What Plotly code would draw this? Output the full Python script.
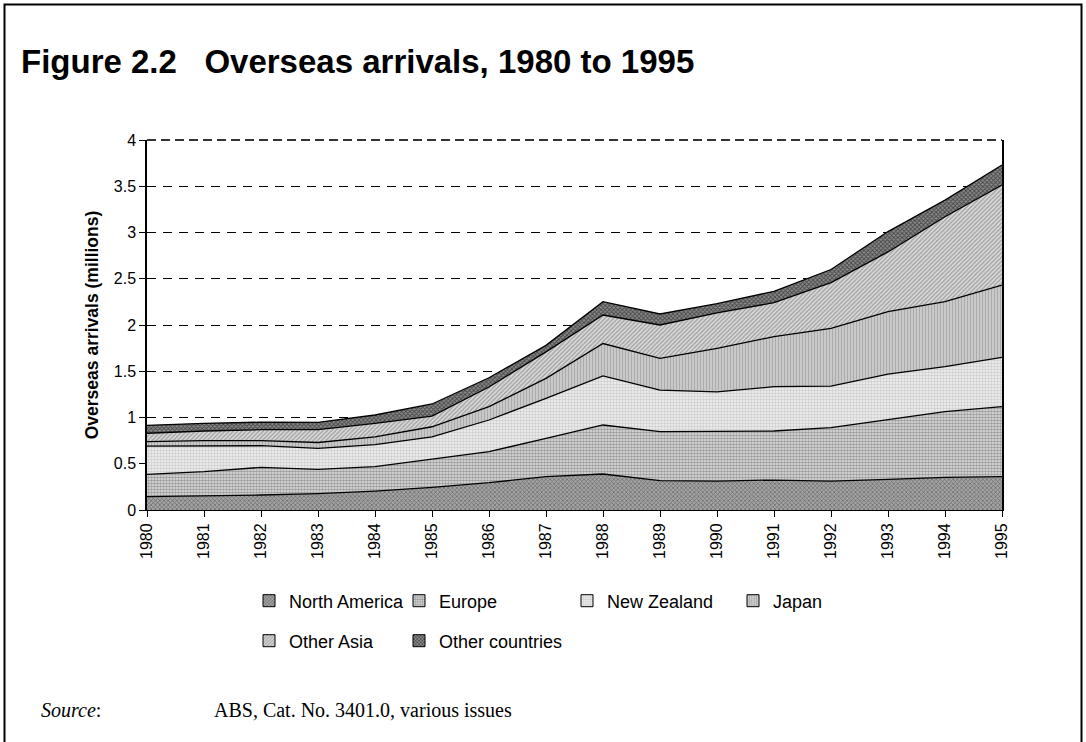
import plotly.graph_objects as go

years = list(range(1980, 1996))

north_america = [0.144, 0.151, 0.162, 0.177, 0.205, 0.245, 0.295, 0.360, 0.389, 0.317, 0.313, 0.324, 0.313, 0.332, 0.353, 0.360]
europe        = [0.242, 0.263, 0.299, 0.263, 0.263, 0.303, 0.335, 0.415, 0.530, 0.530, 0.541, 0.530, 0.577, 0.641, 0.710, 0.757]
new_zealand   = [0.304, 0.281, 0.234, 0.227, 0.238, 0.242, 0.343, 0.432, 0.530, 0.450, 0.422, 0.479, 0.450, 0.497, 0.487, 0.533]
japan         = [0.050, 0.055, 0.055, 0.063, 0.084, 0.110, 0.144, 0.216, 0.351, 0.343, 0.472, 0.541, 0.624, 0.674, 0.702, 0.782]
other_asia    = [0.090, 0.104, 0.118, 0.138, 0.147, 0.116, 0.213, 0.287, 0.308, 0.360, 0.382, 0.367, 0.494, 0.646, 0.918, 1.082]
other_countries = [0.085, 0.083, 0.082, 0.080, 0.090, 0.130, 0.100, 0.070, 0.144, 0.119, 0.100, 0.123, 0.142, 0.220, 0.180, 0.216]

series_names = ["North America", "Europe", "New Zealand", "Japan", "Other Asia", "Other countries"]
series_values = [north_america, europe, new_zealand, japan, other_asia, other_countries]

y_tick_vals = [0, 0.5, 1, 1.5, 2, 2.5, 3, 3.5, 4]
y_tick_text = ["0", "0.5", "1", "1.5", "2", "2.5", "3", "3.5", "4"]

# styling
patterns = [
    dict(shape="x", bgcolor="#a4a4a4", fgcolor="#2a2a2a", size=3, solidity=0.4),
    dict(shape=".", bgcolor="#e2e2e2", fgcolor="#555555", size=3, solidity=0.6),
    dict(shape=".", bgcolor="#f2f2f2", fgcolor="#a8a8a8", size=3, solidity=0.5),
    dict(shape="|", bgcolor="#cccccc", fgcolor="#8a8a8a", size=3, solidity=0.4),
    dict(shape="/", bgcolor="#dedede", fgcolor="#6a6a6a", size=3, solidity=0.5),
    dict(shape="x", bgcolor="#8c8c8c", fgcolor="#000000", size=3, solidity=0.5),
]

W, H = 1086, 742
L, R, T, B = 147, 84, 140, 232
PW, PH = W - L - R, H - T - B

def fx(px):
    return (px - L) / PW

def fy(py):
    return (H - B - py) / PH

fig = go.Figure()

for name, vals, pat in zip(series_names, series_values, patterns):
    fig.add_trace(go.Scatter(
        x=years, y=vals, name=name, mode="lines",
        stackgroup="one", fill="tonexty",
        line=dict(color="black", width=1.3),
        fillpattern=pat,
        showlegend=False, hoverinfo="skip",
    ))

legend_pos = [(249, 601), (399, 601), (567, 601), (733, 601), (249, 641), (399, 641)]
legend_layouts = {}
for i, (name, pat, (lx, ly)) in enumerate(zip(series_names, patterns, legend_pos)):
    key = "legend" if i == 0 else f"legend{i+1}"
    fig.add_trace(go.Bar(
        x=[None], y=[None], name=name,
        marker=dict(color=pat["bgcolor"], pattern=pat, line=dict(color="black", width=1)),
        legend=key, showlegend=True,
    ))
    legend_layouts[key] = dict(
        x=fx(lx), y=fy(ly), xanchor="left", yanchor="middle",
        bgcolor="rgba(0,0,0,0)", borderwidth=0,
        font=dict(family="Liberation Sans, Arial", size=18, color="black"),
    )

fig.update_layout(
    width=W, height=H, autosize=False,
    margin=dict(l=L, r=R, t=T, b=B),
    paper_bgcolor="white", plot_bgcolor="white",
    font=dict(family="Liberation Sans, Arial", color="black"),
    xaxis=dict(
        range=[1980, 1995], tickvals=years, ticktext=[str(y) for y in years],
        tickangle=-90, ticks="outside", ticklen=6, tickcolor="black",
        showline=True, linecolor="black", linewidth=1,
        showgrid=False, zeroline=False,
        tickfont=dict(size=16),
    ),
    yaxis=dict(
        range=[0, 4], tickvals=y_tick_vals, ticktext=y_tick_text,
        ticks="outside", ticklen=6, tickcolor="black",
        showline=True, mirror=True, linecolor="black", linewidth=1.5,
        showgrid=True, gridcolor="black", gridwidth=1, griddash="9px,7px",
        zeroline=False, tickfont=dict(size=16),
        title=dict(text="<b>Overseas arrivals (millions)</b>", font=dict(size=17.5), standoff=11),
    ),
    **legend_layouts,
    shapes=[
        dict(type="line", xref="paper", yref="paper", x0=0, x1=1, y0=1, y1=1,
             line=dict(color="#333333", width=2, dash="9px,5px"), layer="above"),
        dict(type="rect", xref="paper", yref="paper",
             x0=fx(4.5), x1=fx(1081.5), y0=fy(760), y1=fy(4.5),
             line=dict(color="black", width=2), fillcolor="rgba(0,0,0,0)", layer="above"),
    ],
    annotations=[
        dict(text="<b>Figure 2.2   Overseas arrivals, 1980 to 1995</b>", xref="paper", yref="paper",
             x=fx(19), y=fy(62), xanchor="left", yanchor="middle", showarrow=False,
             font=dict(family="Liberation Sans, Arial", size=33, color="black")),
        dict(text="<i>Source</i>:", xref="paper", yref="paper",
             x=fx(39), y=fy(710), xanchor="left", yanchor="middle", showarrow=False,
             font=dict(family="Liberation Serif, Times New Roman", size=20, color="black")),
        dict(text="ABS, Cat. No. 3401.0, various issues", xref="paper", yref="paper",
             x=fx(212), y=fy(710), xanchor="left", yanchor="middle", showarrow=False,
             font=dict(family="Liberation Serif, Times New Roman", size=20, color="black")),
    ],
)

fig.write_html("out.html")
